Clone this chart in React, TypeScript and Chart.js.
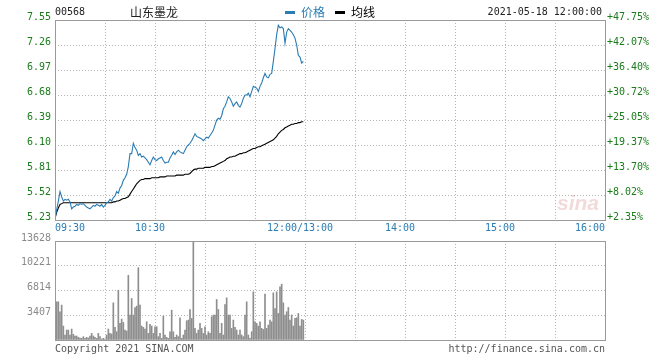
import { useEffect, useRef } from "react";
import { Chart, registerables } from "chart.js";

Chart.register(...registerables);

const STOCK_CODE = "00568";
const STOCK_NAME = "山东墨龙";
const TIMESTAMP = "2021-05-18 12:00:00";
const LEGEND_PRICE = "价格";
const LEGEND_AVG = "均线";
const COPYRIGHT = "Copyright 2021 SINA.COM";
const SITE_URL = "http://finance.sina.com.cn";

const PRICE_MIN = 5.23;
const PRICE_MAX = 7.55;
const PRICE_TICKS = [5.23, 5.52, 5.81, 6.1, 6.39, 6.68, 6.97, 7.26, 7.55];
const PCT_LABELS = ["+2.35%", "+8.02%", "+13.70%", "+19.37%", "+25.05%", "+30.72%", "+36.40%", "+42.07%", "+47.75%"];

const SESSION_MINUTES = 330;
const GRID_STEP_MINUTES = 30;
const TIME_TICK_MINUTES = [0, 60, 150, 210, 270, 330];
const TIME_TICK_LABELS = ["09:30", "10:30", "12:00/13:00", "14:00", "15:00", "16:00"];

const VOLUME_MAX = 13628;
const VOLUME_TICKS = [0, 3407, 6814, 10221, 13628];

// one value per minute from 09:30
const prices = [
  5.25, 5.35, 5.45, 5.56, 5.50, 5.45, 5.47, 5.46, 5.47, 5.44,
  5.36, 5.38, 5.39, 5.41, 5.40, 5.42, 5.41, 5.42, 5.40, 5.38,
  5.37, 5.36, 5.38, 5.40, 5.39, 5.41, 5.40, 5.39, 5.41, 5.38,
  5.40, 5.43, 5.44, 5.47, 5.45, 5.49, 5.51, 5.56, 5.54, 5.60,
  5.63, 5.69, 5.72, 5.76, 5.85, 6.00, 6.00, 6.12, 6.07, 6.04,
  5.98, 6.00, 5.96, 5.97, 5.95, 5.93, 5.90, 5.87, 5.92, 5.96,
  5.93, 5.92, 5.94, 5.95, 5.96, 5.92, 5.89, 5.90, 5.90, 5.95,
  5.98, 6.02, 5.99, 6.02, 6.04, 6.02, 6.01, 6.00, 6.04, 6.08,
  6.10, 6.12, 6.15, 6.19, 6.23, 6.20, 6.19, 6.18, 6.17, 6.15,
  6.17, 6.19, 6.18, 6.21, 6.24, 6.27, 6.33, 6.39, 6.41, 6.40,
  6.44, 6.52, 6.55, 6.60, 6.66, 6.64, 6.60, 6.55, 6.58, 6.60,
  6.56, 6.54, 6.58, 6.64, 6.68, 6.68, 6.70, 6.66, 6.72, 6.78,
  6.77, 6.76, 6.72, 6.78, 6.82, 6.88, 6.93, 6.89, 6.88, 6.92,
  6.93, 7.07, 7.22, 7.38, 7.49, 7.46, 7.47, 7.45, 7.28, 7.41,
  7.45, 7.43, 7.41, 7.38, 7.34, 7.26, 7.14, 7.12, 7.05, 7.07,
];

const averages = [
  5.25, 5.32, 5.37, 5.41, 5.42, 5.43, 5.43, 5.43, 5.43, 5.43,
  5.43, 5.43, 5.43, 5.43, 5.43, 5.43, 5.43, 5.43, 5.43, 5.43,
  5.43, 5.43, 5.43, 5.43, 5.43, 5.43, 5.43, 5.43, 5.43, 5.43,
  5.43, 5.43, 5.43, 5.43, 5.43, 5.44, 5.44, 5.45, 5.45, 5.46,
  5.47, 5.48, 5.48, 5.49, 5.50, 5.53, 5.56, 5.59, 5.62, 5.65,
  5.67, 5.69, 5.70, 5.70, 5.71, 5.71, 5.71, 5.71, 5.72, 5.72,
  5.72, 5.72, 5.72, 5.73, 5.73, 5.73, 5.73, 5.74, 5.74, 5.74,
  5.74, 5.74, 5.74, 5.75, 5.75, 5.75, 5.75, 5.75, 5.76, 5.76,
  5.76, 5.77, 5.79, 5.81, 5.82, 5.82, 5.83, 5.83, 5.83, 5.83,
  5.84, 5.84, 5.84, 5.84, 5.85, 5.85, 5.86, 5.87, 5.88, 5.89,
  5.90, 5.91, 5.92, 5.94, 5.95, 5.96, 5.96, 5.97, 5.97, 5.98,
  5.99, 6.00, 6.00, 6.01, 6.01, 6.02, 6.03, 6.04, 6.05, 6.06,
  6.06, 6.07, 6.08, 6.08, 6.09, 6.10, 6.11, 6.12, 6.13, 6.14,
  6.15, 6.16, 6.18, 6.20, 6.23, 6.25, 6.27, 6.28, 6.30, 6.31,
  6.32, 6.33, 6.34, 6.34, 6.35, 6.35, 6.36, 6.36, 6.37, 6.37,
];

// one value per minute, starting at 09:31
const volumes = [
  5255, 5255, 3885, 4800, 1920, 690, 1370, 1370, 690, 1510,
  780, 550, 550, 370, 270, 230, 460, 230, 370, 270,
  550, 910, 550, 370, 230, 910, 460, 140, 230, 140,
  690, 1510, 910, 820, 5120, 1740, 1140, 6860, 2290, 2880,
  2420, 1370, 1230, 8910, 3430, 5710, 3430, 4480, 4660, 9960,
  4800, 1920, 1740, 1510, 2510, 910, 2150, 1920, 910, 1830,
  1830, 460, 910, 230, 3290, 690, 370, 230, 1140, 4110,
  1140, 370, 690, 460, 3060, 230, 690, 1370, 2650, 2740,
  4200, 2970, 13628, 1600, 910, 1370, 2290, 1600, 910, 1830,
  690, 1140, 910, 3200, 3430, 3430, 5580, 4200, 910, 2290,
  690, 4890, 5800, 3430, 3430, 1600, 2740, 1740, 1370, 690,
  1370, 690, 460, 3430, 5260, 690, 230, 1140, 6630, 2510,
  2290, 1920, 2510, 1600, 1460, 6310, 1600, 2060, 2740, 2510,
  6490, 4340, 6630, 3660, 7310, 7680, 5120, 3430, 3890, 4480,
  2740, 3430, 1920, 2970, 3060, 3660, 1920, 2830, 2740,
];

const MONO = "'DejaVu Sans Mono', 'Liberation Mono', monospace";
const CJK = "'Noto Sans CJK SC', 'Noto Sans', sans-serif";
const GRID_COLOR = "#b4b4b4";
const FRAME_COLOR = "#9a9a9a";
const PRICE_COLOR = "#2b7cb3";
const GREEN = "#1a7d1a";
const TIME_BLUE = "#2a7db5";

const framePlugin = {
  id: "frame",
  afterDraw(chart: any) {
    const { ctx, chartArea } = chart;
    ctx.save();
    ctx.strokeStyle = FRAME_COLOR;
    ctx.lineWidth = 1;
    ctx.setLineDash([]);
    ctx.strokeRect(
      Math.round(chartArea.left) + 0.5,
      Math.round(chartArea.top) + 0.5,
      Math.round(chartArea.right - chartArea.left),
      Math.round(chartArea.bottom - chartArea.top)
    );
    ctx.restore();
  },
};

const headerPlugin = {
  id: "header",
  beforeDatasetsDraw(chart: any) {
    const { ctx, chartArea } = chart;
    ctx.save();
    ctx.font = "italic bold 21px 'Liberation Sans', sans-serif";
    ctx.fillStyle = "rgba(214, 120, 120, 0.28)";
    ctx.textAlign = "right";
    ctx.textBaseline = "alphabetic";
    ctx.fillText("sina", chartArea.right - 6, chartArea.bottom - 10);
    ctx.restore();
  },
  afterDraw(chart: any) {
    const { ctx, chartArea } = chart;
    const y = 12;
    ctx.save();
    ctx.textBaseline = "middle";
    ctx.textAlign = "left";
    ctx.font = `10px ${MONO}`;
    ctx.fillStyle = "#222";
    ctx.fillText(STOCK_CODE, chartArea.left, y);
    ctx.font = `12px ${CJK}`;
    ctx.fillText(STOCK_NAME, 130, y);
    // legend
    ctx.fillStyle = PRICE_COLOR;
    ctx.fillRect(285, y - 1, 10, 3);
    ctx.fillText(LEGEND_PRICE, 301, y);
    ctx.fillStyle = "#000";
    ctx.fillRect(335, y - 1, 10, 3);
    ctx.fillText(LEGEND_AVG, 351, y);
    ctx.font = `10px ${MONO}`;
    ctx.fillStyle = "#222";
    ctx.textAlign = "right";
    ctx.fillText(TIMESTAMP, chartArea.right - 3, y);
    ctx.restore();
  },
};

const footerPlugin = {
  id: "footer",
  afterDraw(chart: any) {
    const { ctx, chartArea } = chart;
    const y = chartArea.bottom + 9;
    ctx.save();
    ctx.font = `10px ${MONO}`;
    ctx.fillStyle = "#555";
    ctx.textBaseline = "middle";
    ctx.textAlign = "left";
    ctx.fillText(COPYRIGHT, chartArea.left, y);
    ctx.textAlign = "right";
    ctx.fillText(SITE_URL, chartArea.right, y);
    ctx.restore();
  },
};

const tickFont = { family: MONO, size: 10 };

export default function App() {
  const priceRef = useRef<HTMLCanvasElement>(null);
  const volRef = useRef<HTMLCanvasElement>(null);

  useEffect(() => {
    const minuteGrid = {
      type: "linear" as const,
      position: "bottom" as const,
      min: 0,
      max: SESSION_MINUTES,
      offset: false,
      afterBuildTicks: (scale: any) => {
        const t = [];
        for (let m = 0; m <= SESSION_MINUTES; m += GRID_STEP_MINUTES) t.push({ value: m });
        scale.ticks = t;
      },
      afterFit: (scale: any) => {
        scale.height = 0;
      },
      ticks: { display: false },
      border: { display: false, dash: [1, 2] },
      grid: { color: GRID_COLOR, drawTicks: false, offset: false },
    };

    const c1 = new Chart(priceRef.current as HTMLCanvasElement, {
      type: "line",
      data: {
        datasets: [
          {
            label: LEGEND_PRICE,
            data: prices.map((p, i) => ({ x: i, y: p })),
            borderColor: PRICE_COLOR,
            borderWidth: 1.1,
            pointRadius: 0,
            tension: 0,
            xAxisID: "x",
            yAxisID: "y",
          },
          {
            label: LEGEND_AVG,
            data: averages.map((p, i) => ({ x: i, y: p })),
            borderColor: "#000",
            borderWidth: 1.1,
            pointRadius: 0,
            tension: 0,
            xAxisID: "x",
            yAxisID: "y",
          },
        ],
      },
      options: {
        responsive: false,
        animation: false,
        devicePixelRatio: 1,
        layout: { padding: { top: 20, bottom: 0, left: 0, right: 0 } },
        plugins: { legend: { display: false }, tooltip: { enabled: false } },
        scales: {
          x: minuteGrid as any,
          xl: {
            type: "linear",
            position: "bottom",
            min: 0,
            max: SESSION_MINUTES,
            afterBuildTicks: (scale: any) => {
              scale.ticks = TIME_TICK_MINUTES.map((m, i) => ({
                value: i === 0 || i === TIME_TICK_MINUTES.length - 1 ? m : m - 3,
              }));
            },
            afterFit: (scale: any) => {
              scale.height = 16;
            },
            ticks: {
              align: "inner",
              maxRotation: 0,
              autoSkip: false,
              padding: 2,
              color: TIME_BLUE,
              font: tickFont,
              callback: (_v: any, i: number) => TIME_TICK_LABELS[i],
            },
            border: { display: false },
            grid: { display: false, drawTicks: false },
          } as any,
          y: {
            type: "linear",
            position: "left",
            min: PRICE_MIN,
            max: PRICE_MAX,
            afterBuildTicks: (scale: any) => {
              scale.ticks = PRICE_TICKS.map((v) => ({ value: v }));
            },
            afterFit: (scale: any) => {
              scale.width = 55;
            },
            ticks: {
              padding: 4,
              labelOffset: -3,
              color: GREEN,
              font: tickFont,
              callback: (v: any) => Number(v).toFixed(2),
            },
            border: { display: false, dash: [1, 2] },
            grid: { color: GRID_COLOR, drawTicks: false },
          } as any,
          y2: {
            type: "linear",
            position: "right",
            min: PRICE_MIN,
            max: PRICE_MAX,
            afterBuildTicks: (scale: any) => {
              scale.ticks = PRICE_TICKS.map((v) => ({ value: v }));
            },
            afterFit: (scale: any) => {
              scale.width = 55;
            },
            ticks: {
              padding: 2,
              labelOffset: -3,
              color: GREEN,
              font: tickFont,
              callback: (_v: any, i: number) => PCT_LABELS[i],
            },
            border: { display: false },
            grid: { display: false, drawTicks: false },
          } as any,
        },
      },
      plugins: [headerPlugin, framePlugin],
    });

    const c2 = new Chart(volRef.current as HTMLCanvasElement, {
      type: "bar",
      data: {
        datasets: [
          {
            label: "成交量",
            data: volumes.map((v, k) => ({ x: k + 1, y: v })),
            backgroundColor: "#8e8e8e",
            borderWidth: 0,
            barThickness: 1,
          } as any,
        ],
      },
      options: {
        responsive: false,
        animation: false,
        devicePixelRatio: 1,
        layout: { padding: { top: 15, bottom: 20, left: 0, right: 55 } },
        plugins: { legend: { display: false }, tooltip: { enabled: false } },
        scales: {
          x: minuteGrid as any,
          y: {
            type: "linear",
            position: "left",
            min: 0,
            max: VOLUME_MAX,
            afterBuildTicks: (scale: any) => {
              scale.ticks = VOLUME_TICKS.map((v) => ({ value: v }));
            },
            afterFit: (scale: any) => {
              scale.width = 55;
            },
            ticks: {
              padding: 4,
              labelOffset: -3,
              color: "#8a8a8a",
              font: tickFont,
              callback: (v: any) => (Number(v) === 0 ? "" : String(v)),
            },
            border: { display: false, dash: [1, 2] },
            grid: { color: GRID_COLOR, drawTicks: false },
          } as any,
        },
      },
      plugins: [framePlugin, footerPlugin],
    });

    return () => {
      c1.destroy();
      c2.destroy();
    };
  }, []);

  return (
    <div style={{ position: "absolute", left: 0, top: 0, width: 660, height: 360, background: "#fff" }}>
      <canvas ref={priceRef} width={660} height={236} style={{ position: "absolute", left: 0, top: 0 }} />
      <canvas ref={volRef} width={660} height={134} style={{ position: "absolute", left: 0, top: 226 }} />
    </div>
  );
}
